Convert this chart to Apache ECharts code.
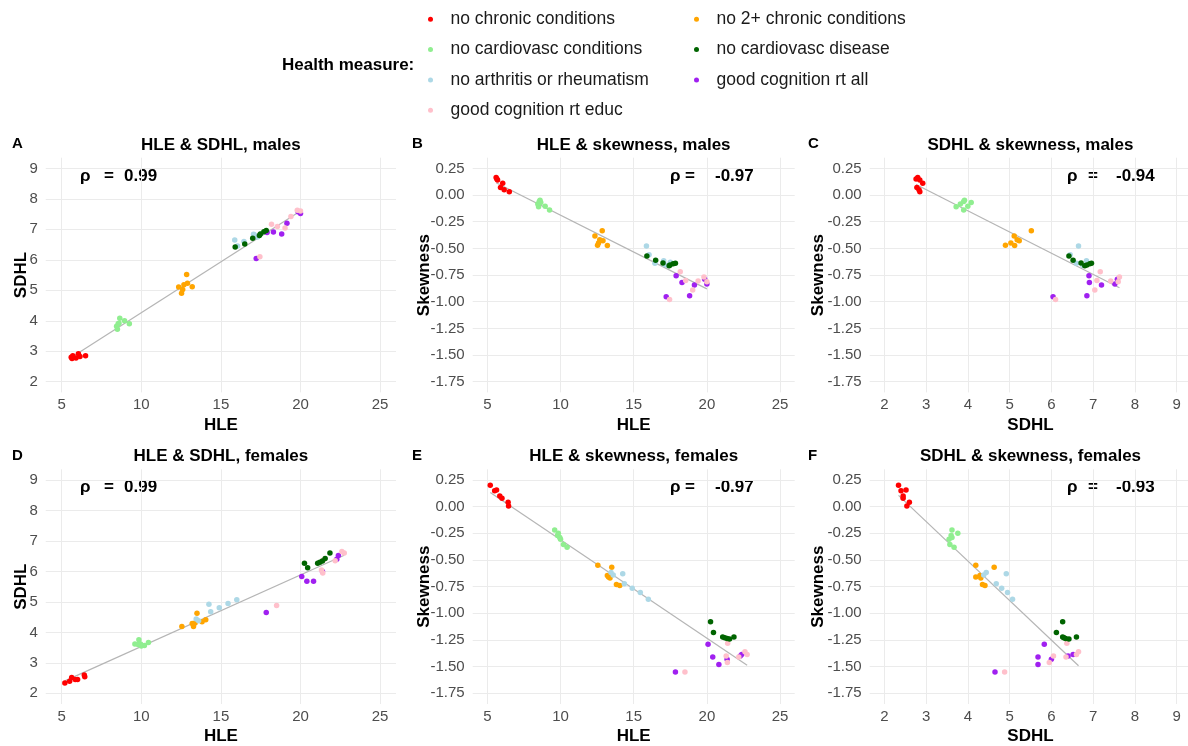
<!DOCTYPE html>
<html><head><meta charset="utf-8">
<script src="https://cdn.jsdelivr.net/npm/echarts@6/dist/echarts.min.js"></script>
<style>html,body{margin:0;padding:0;background:#fff}#c{width:1188px;height:746px}</style>
</head><body><div id="c"></div>
<script>
// ---------------- DATA ----------------
const groups = ['no chronic conditions','no 2+ chronic conditions','no cardiovasc conditions','no cardiovasc disease','no arthritis or rheumatism','good cognition rt all','good cognition rt educ'];
// order: red, orange, lightgreen, darkgreen, lightblue, purple, pink
const maleHLE = [
  [5.6, 5.7, 6.05, 5.9, 6.15, 6.5, 5.65],
  [12.85, 12.35, 13.2, 12.9, 12.53, 12.6, 12.68],
  [8.5, 8.45, 8.6, 8.65, 8.95, 9.25, 8.55],
  [15.9, 16.5, 17.0, 17.42, 17.48, 17.7, 17.85],
  [15.87, 16.05, 16.45, 17.05, 17.1, 17.3, 17.5],
  [17.22, 17.9, 18.3, 18.82, 19.15, 19.85, 20.0],
  [17.45, 18.18, 18.55, 19.03, 19.4, 19.8, 20.0]
];
const maleSDHL = [
  [2.80, 2.85, 2.92, 2.78, 2.83, 2.85, 2.76],
  [5.52, 5.11, 5.12, 5.23, 4.90, 5.03, 5.18],
  [3.72, 3.82, 3.92, 4.08, 4.0, 3.9, 3.9],
  [6.42, 6.52, 6.71, 6.80, 6.85, 6.92, 6.96],
  [6.65, 6.45, 6.6, 6.84, 6.82, 6.75, 6.85],
  [6.04, 6.9, 6.91, 6.85, 7.2, 7.58, 7.52],
  [6.1, 7.17, 7.09, 7.04, 7.42, 7.63, 7.6]
];
const maleSkew = [
  [0.165, 0.14, 0.11, 0.07, 0.05, 0.03, 0.15],
  [-0.334, -0.384, -0.472, -0.428, -0.47, -0.45, -0.42],
  [-0.11, -0.085, -0.05, -0.07, -0.105, -0.14, -0.06],
  [-0.572, -0.612, -0.636, -0.663, -0.655, -0.645, -0.64],
  [-0.478, -0.56, -0.64, -0.615, -0.65, -0.66, -0.63],
  [-0.953, -0.756, -0.82, -0.944, -0.844, -0.79, -0.835],
  [-0.98, -0.72, -0.80, -0.89, -0.806, -0.768, -0.812]
];
const femaleHLE = [
  [5.2, 5.5, 5.63, 5.85, 6.0, 6.42, 6.45],
  [12.55, 13.5, 13.2, 13.28, 13.38, 13.82, 14.05],
  [9.6, 9.85, 9.8, 10.0, 10.2, 10.45, 9.95],
  [20.25, 20.45, 21.08, 21.22, 21.38, 21.55, 21.85],
  [13.45, 14.25, 14.36, 14.9, 15.45, 16.0, 13.6],
  [17.85, 20.08, 20.4, 20.82, 21.38, 22.28, 22.38],
  [18.5, 21.42, 21.32, 21.4, 22.18, 22.6, 22.75]
];
const femaleSDHL = [
  [2.34, 2.40, 2.52, 2.45, 2.45, 2.60, 2.54],
  [4.19, 4.63, 4.29, 4.19, 4.31, 4.35, 4.41],
  [3.62, 3.76, 3.60, 3.55, 3.57, 3.67, 3.62],
  [6.27, 6.12, 6.27, 6.30, 6.34, 6.42, 6.60],
  [4.44, 4.92, 4.68, 4.81, 4.95, 5.07, 4.38],
  [4.65, 5.83, 5.68, 5.68, 6.0, 6.4, 6.52],
  [4.88, 6.37, 6.05, 5.95, 6.35, 6.65, 6.6]
];
const femaleSkew = [
  [0.2, 0.15, 0.155, 0.10, 0.078, 0.04, 0.005],
  [-0.55, -0.568, -0.645, -0.66, -0.67, -0.73, -0.74],
  [-0.22, -0.25, -0.27, -0.305, -0.355, -0.38, -0.29],
  [-1.08, -1.18, -1.222, -1.23, -1.237, -1.24, -1.222],
  [-0.617, -0.628, -0.722, -0.766, -0.805, -0.867, -0.64],
  [-1.55, -1.29, -1.41, -1.48, -1.43, -1.40, -1.385],
  [-1.55, -1.28, -1.40, -1.46, -1.41, -1.36, -1.385]
];
const rhoValues = ['0.99', '-0.97', '-0.94', '0.99', '-0.97', '-0.93'];
const hleTicks = [5, 10, 15, 20, 25];
const sdhlTicks = [2, 3, 4, 5, 6, 7, 8, 9];
const skewTicks = [0.25, 0, -0.25, -0.5, -0.75, -1, -1.25, -1.5, -1.75];

// ---------------- STYLE / LAYOUT ----------------
const groupColors = ['#FF0000','#FFA500','#90EE90','#006400','#ADD8E6','#A020F0','#FFC0CB'];
const drawOrder = [5, 6, 1, 4, 2, 3, 0];
const FONT = '"Liberation Sans", Arial, sans-serif';
const dataBySex = {
  m: {HLE: maleHLE, SDHL: maleSDHL, Skewness: maleSkew},
  f: {HLE: femaleHLE, SDHL: femaleSDHL, Skewness: femaleSkew}
};
const panels = [
  {tag:'A', title:'HLE & SDHL, males', sex:'m', x:'HLE', y:'SDHL', col:0, row:0, rhoPos:'left'},
  {tag:'B', title:'HLE & skewness, males', sex:'m', x:'HLE', y:'Skewness', col:1, row:0, rhoPos:'right'},
  {tag:'C', title:'SDHL & skewness, males', sex:'m', x:'SDHL', y:'Skewness', col:2, row:0, rhoPos:'right2'},
  {tag:'D', title:'HLE & SDHL, females', sex:'f', x:'HLE', y:'SDHL', col:0, row:1, rhoPos:'left'},
  {tag:'E', title:'HLE & skewness, females', sex:'f', x:'HLE', y:'Skewness', col:1, row:1, rhoPos:'right'},
  {tag:'F', title:'SDHL & skewness, females', sex:'f', x:'SDHL', y:'Skewness', col:2, row:1, rhoPos:'right2'}
];
const cols = [{left:45.75, width:350.25, yGap:16}, {left:472.7, width:322, yGap:40}, {left:869.7, width:321.6, yGap:42.5}];
const rows = [{top:157.7, height:234.7}, {top:469.3, height:234.7}];
const axisDefs = {
  HLE: {min:4, max:26, interval:1, ticks:hleTicks, cycle:5, offset:1, fmt: v => String(v)},
  SDHL: {min:1.65, max:9.35, interval:0.05, ticks:sdhlTicks, cycle:20, offset:7, fmt: v => String(v)},
  Skewness: {min:-1.85, max:0.35, interval:0.05, ticks:skewTicks, cycle:5, offset:2, fmt: v => v.toFixed(2)}
};
const rhoOffsets = {
  left:  [80, 104, 124],
  right: [670, 685, 715],
  right2:[1067, 1088, 1116]
};

function axisCfg(key, gridIndex, isX, gap) {
  const d = axisDefs[key];
  const colors = Array.from({length: d.cycle}, (_, i) => i === d.offset ? '#ebebeb' : 'rgba(0,0,0,0)');
  return {
    type: 'value', gridIndex, min: d.min, max: d.max, interval: d.interval,
    name: key, nameLocation: 'middle', nameGap: gap, nameMoveOverlap: false,
    nameTextStyle: {fontSize: 17, fontWeight: 'bold', color: '#000', fontFamily: FONT},
    axisLine: {show: false}, axisTick: {show: false},
    axisLabel: {
      color: '#4d4d4d', fontSize: 15, fontFamily: FONT, margin: isX ? 5 : 8,
      formatter: v => { const t = d.ticks.find(t => Math.abs(t - v) < 1e-6); return t === undefined ? '' : d.fmt(t); }
    },
    splitLine: {show: true, lineStyle: {color: colors, width: 1}}
  };
}

const grid = [], xAxis = [], yAxis = [], series = [], title = [], graphic = [];
panels.forEach((p, i) => {
  const c = cols[p.col], r = rows[p.row];
  grid.push({left: c.left, top: r.top, width: c.width, height: r.height, containLabel: false, outerBoundsMode: 'none'});
  xAxis.push(axisCfg(p.x, i, true, 24));
  yAxis.push(axisCfg(p.y, i, false, c.yGap));
  const xs = dataBySex[p.sex][p.x], ys = dataBySex[p.sex][p.y];
  // regression line (OLS) over data range
  const allX = [].concat(...xs), allY = [].concat(...ys);
  const n = allX.length;
  const mx = allX.reduce((a, b) => a + b, 0) / n, my = allY.reduce((a, b) => a + b, 0) / n;
  let sxy = 0, sxx = 0;
  for (let k = 0; k < n; k++) { sxy += (allX[k] - mx) * (allY[k] - my); sxx += (allX[k] - mx) ** 2; }
  const b = sxy / sxx, a0 = my - b * mx;
  const x0 = Math.min(...allX), x1 = Math.max(...allX);
  series.push({
    type: 'line', name: 'fit', xAxisIndex: i, yAxisIndex: i, silent: true, symbol: 'none', z: 1,
    lineStyle: {color: '#b5b5b5', width: 1.2}, data: [[x0, a0 + b * x0], [x1, a0 + b * x1]], animation: false
  });
  drawOrder.forEach(g => {
    series.push({
      type: 'scatter', name: groups[g], xAxisIndex: i, yAxisIndex: i, symbolSize: 5.5, z: 2,
      itemStyle: {color: groupColors[g], opacity: 1},
      data: xs[g].map((x, k) => [x, ys[g][k]]), animation: false
    });
  });
  const cx = c.left + c.width / 2;
  title.push({text: p.title, left: cx, top: r.top - 21, textAlign: 'center', padding: 0,
    textStyle: {fontSize: 17, fontWeight: 'bold', color: '#000', fontFamily: FONT}});
  graphic.push({type: 'text', left: [12, 412, 808][p.col], top: r.top - 21,
    style: {text: p.tag, font: 'bold 15px ' + FONT, fill: '#000'}});
  const ro = rhoOffsets[p.rhoPos];
  const ry = r.top + 18.5;
  ['ρ', '=', rhoValues[i]].forEach((t, k) => {
    graphic.push({type: 'text', x: ro[k], y: ry,
      style: {text: t, font: 'bold 17px ' + FONT, fill: '#000', textVerticalAlign: 'middle'}});
  });
});
graphic.push({type: 'text', x: 282, y: 65,
  style: {text: 'Health measure:', font: 'bold 17px ' + FONT, fill: '#000', textVerticalAlign: 'middle'}});

const legendCommon = {
  orient: 'vertical', icon: 'circle', itemWidth: 30, itemHeight: 5, itemGap: 10.3, padding: 0,
  selectedMode: false, textStyle: {fontSize: 17.5, lineHeight: 20, color: '#1a1a1a', fontFamily: FONT}
};
const legend = [
  Object.assign({}, legendCommon, {left: 428, top: 9.3, data: [groups[0], groups[2], groups[4], groups[6]]}),
  Object.assign({}, legendCommon, {left: 694, top: 9.3, data: [groups[1], groups[3], groups[5]]})
];

const chart = echarts.init(document.getElementById('c'), null, {renderer: 'canvas'});
chart.setOption({
  backgroundColor: '#fff', animation: false, textStyle: {fontFamily: FONT},
  title, legend, grid, xAxis, yAxis, series, graphic
});
</script></body></html>
